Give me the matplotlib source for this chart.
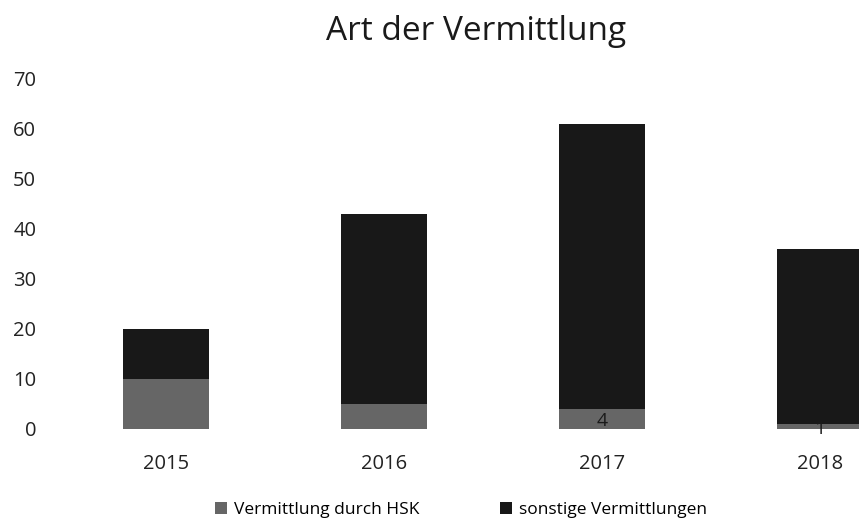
import numpy as np
import matplotlib.pyplot as plt

# data
years = ['2015', '2016', '2017', '2018']
hsk = [10, 5, 4, 1]
sonstige = [10, 38, 57, 35]
labels = ['Vermittlung durch HSK', 'sonstige Vermittlungen']

plt.rcParams['font.family'] = ['Open Sans', 'DejaVu Sans']

fig = plt.figure(figsize=(8.59, 5.23), dpi=100)
ax = fig.add_axes([57/859, (523-429)/523, (859-57)/859, 350/523])

x = np.arange(len(years))
w = 0.395
b1 = ax.bar(x, hsk, w, color='#666666', label=labels[0])
b2 = ax.bar(x, sonstige, w, bottom=hsk, color='#181818', label=labels[1])

# only the small data labels survived the scan
for i in [2, 3]:
    ax.text(x[i], hsk[i] / 2 - 0.5, str(hsk[i]), ha='center', va='center',
            fontsize=14, color='#1a1a1a')

ax.set_xlim(-0.5, 3 + 39/218)
ax.set_ylim(0, 70)
ax.set_yticks(range(0, 71, 10))
ax.set_xticks(x)
ax.set_xticklabels(years)
for s in ax.spines.values():
    s.set_visible(False)
ax.tick_params(axis='both', length=0, labelsize=14.5, colors='#222222')
ax.tick_params(axis='y', pad=15)
ax.tick_params(axis='x', pad=18)

fig.text(476/859, 1 - 32/523, 'Art der Vermittlung', ha='center', va='center',
         fontsize=24, color='#1a1a1a')

fig.legend(handles=[b1, b2], labels=labels, loc='center', ncol=2,
           bbox_to_anchor=(461/859, 1 - 510/523), frameon=False,
           fontsize=12.5, handlelength=0.7, handleheight=0.7,
           handletextpad=0.4, columnspacing=4.6)

fig.savefig('out.png', dpi=100)
